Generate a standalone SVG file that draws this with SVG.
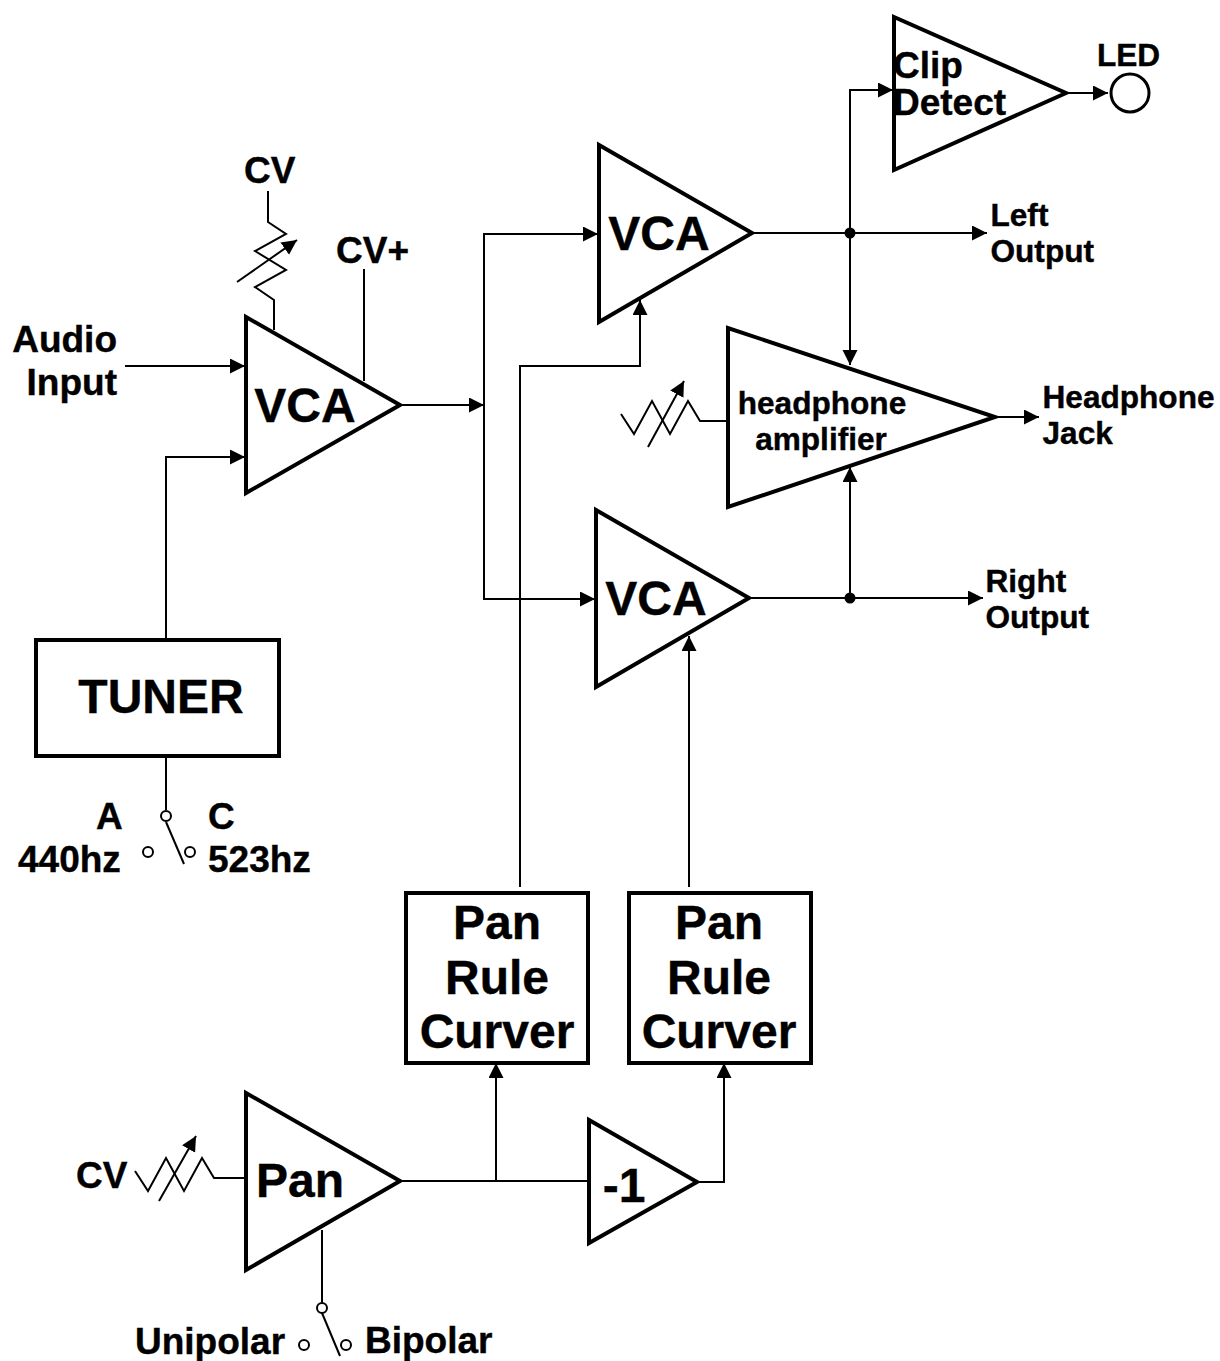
<svg xmlns="http://www.w3.org/2000/svg" width="1220" height="1361" viewBox="0 0 1220 1361">
<style>
text{font-family:"Liberation Sans",Arial,sans-serif;font-weight:bold;fill:#000;stroke:#000;stroke-width:.4}
.xl{font-size:48px}.l{font-size:37px}.m{font-size:31.6px}
.mid{text-anchor:middle}
.amp,.box{fill:#fff;stroke:#000;stroke-width:4}
.w{fill:none;stroke:#000;stroke-width:2}
.a{fill:none;stroke:#000;stroke-width:2;marker-end:url(#arrow)}
.c{fill:#fff;stroke:#000;stroke-width:2}
</style>
<defs>
<marker id="arrow" markerUnits="userSpaceOnUse" markerWidth="16" markerHeight="16" refX="15" refY="7.5" orient="auto"><path d="M0 0L15 7.5L0 15Z" fill="#000"/></marker>
</defs>
<g id="amp-clip"><polygon class="amp" points="894,17 894,170 1066,93"/><text class="l" x="893" y="78">Clip</text><text class="l" x="893" y="115">Detect</text></g>
<g id="vca-left"><polygon class="amp" points="246,317 246,493 400,405"/><text class="xl mid" x="305" y="422">VCA</text></g>
<g id="vca-top"><polygon class="amp" points="599,145 599,322 752,233"/><text class="xl mid" x="659" y="250">VCA</text></g>
<g id="vca-bottom"><polygon class="amp" points="596,510 596,687 749,598"/><text class="xl mid" x="656" y="615">VCA</text></g>
<g id="amp-headphone"><polygon class="amp" points="728,328 728,507 995,417"/><text class="m mid" x="822" y="414">headphone</text><text class="m mid" x="821" y="450">amplifier</text></g>
<g id="amp-pan"><polygon class="amp" points="246,1093 246,1270 400,1181"/><text class="xl mid" x="300" y="1197">Pan</text></g>
<g id="amp-invert"><polygon class="amp" points="589,1120 589,1243 697,1182"/><text class="xl mid" x="624" y="1201.500">-1</text></g>
<g id="tuner"><rect class="box" x="36" y="640" width="243" height="116"/><text class="xl mid" x="161" y="713">TUNER</text></g>
<g id="curver-left"><rect class="box" x="406" y="893" width="182" height="170"/><text class="xl mid" x="497" y="939">Pan</text><text class="xl mid" x="497" y="994">Rule</text><text class="xl mid" x="497" y="1048">Curver</text></g>
<g id="curver-right"><rect class="box" x="629" y="893" width="182" height="170"/><text class="xl mid" x="719" y="939">Pan</text><text class="xl mid" x="719" y="994">Rule</text><text class="xl mid" x="719" y="1048">Curver</text></g>
<g id="led"><circle cx="1130" cy="93" r="19" fill="#fff" stroke="#000" stroke-width="3"/><text class="m" x="1097" y="66">LED</text></g>
<g id="labels">
<text class="l" x="117" y="352" text-anchor="end">Audio</text><text class="l" x="117" y="395" text-anchor="end">Input</text>
<text class="l" x="244" y="183">CV</text><text class="l" x="336" y="263">CV+</text>
<text class="m" x="990.500" y="226">Left</text><text class="m" x="990.500" y="262">Output</text>
<text class="m" x="985.500" y="592">Right</text><text class="m" x="985.500" y="628">Output</text>
<text class="m" x="1042.500" y="408">Headphone</text><text class="m" x="1042.500" y="444">Jack</text>
<text class="l" x="96" y="829">A</text><text class="l" x="18" y="872">440hz</text>
<text class="l" x="208" y="829">C</text><text class="l" x="208" y="872">523hz</text>
<text class="l" x="76" y="1188">CV</text>
<text class="l" x="135" y="1354">Unipolar</text><text class="l" x="365" y="1353">Bipolar</text>
</g>
<g id="connectors">
<path class="a" d="M125 366H245"/>
<path class="a" d="M166 640V457H245"/>
<path class="w" d="M268 191V222L286 234L255 251L286 270L255 287L274 300V330"/>
<path class="a" d="M237 282L297 240"/>
<path class="w" d="M364 269V381"/>
<path class="a" d="M402 405H484"/>
<path class="a" d="M484 405V234H598"/>
<path class="a" d="M484 405V599H595"/>
<path class="a" d="M520 887V366H640V300"/>
<path class="a" d="M689 887V636"/>
<path class="w" d="M754 233H850"/>
<path class="a" d="M850 233H987"/>
<path class="a" d="M850 233V90H893"/>
<path class="a" d="M850 233V365"/>
<path class="w" d="M751 598H850"/>
<path class="a" d="M850 598H983"/>
<path class="a" d="M850 598V467"/>
<path class="a" d="M1068 93H1108"/>
<path class="a" d="M997 417H1039"/>
<path class="w" d="M621 414L634 434L652 401L670 434L688 401L700 421H729"/>
<path class="a" d="M648 447L684 381"/>
<path class="w" d="M166 756V810"/>
<path class="w" d="M166 822L184 864"/>
<circle class="c" cx="166" cy="816" r="5"/><circle class="c" cx="148" cy="852" r="5"/><circle class="c" cx="190" cy="852" r="5"/>
<path class="w" d="M135 1171L148 1191L166 1158L184 1191L202 1158L214 1178H246"/>
<path class="a" d="M159 1201L196 1136"/>
<path class="w" d="M402 1181H589"/>
<path class="a" d="M496 1181V1063"/>
<path class="a" d="M699 1182H724V1063"/>
<path class="w" d="M322 1230V1303"/>
<path class="w" d="M322 1313L340 1356"/>
<circle class="c" cx="322" cy="1308" r="5"/><circle class="c" cx="304" cy="1345" r="5"/><circle class="c" cx="346" cy="1345" r="5"/>
<circle cx="850" cy="233" r="5.500"/><circle cx="850" cy="598" r="5.500"/>
</g>
</svg>
